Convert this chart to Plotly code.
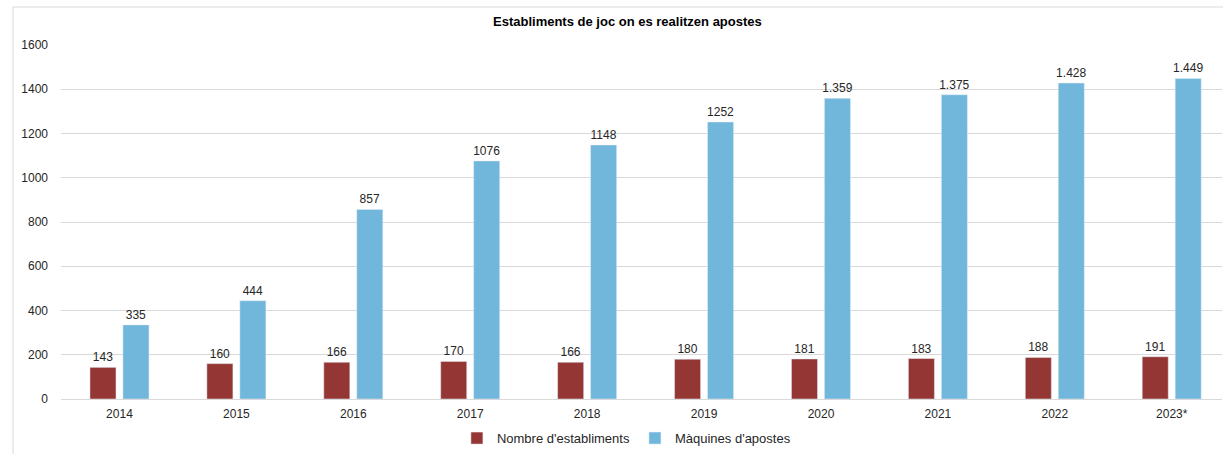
import plotly.graph_objects as go

anys = ["2014", "2015", "2016", "2017", "2018", "2019", "2020", "2021", "2022", "2023*"]
establiments = [143, 160, 166, 170, 166, 180, 181, 183, 188, 191]
maquines = [335, 444, 857, 1076, 1148, 1252, 1359, 1375, 1428, 1449]
etiquetes_maquines = ["335", "444", "857", "1076", "1148", "1252", "1.359", "1.375", "1.428", "1.449"]

FONT = "Liberation Sans, Arial, sans-serif"

fig = go.Figure()
fig.add_trace(go.Bar(
    x=anys, y=establiments, name="Nombre d'establiments",
    marker=dict(color="#943634"),
    text=[str(v) for v in establiments], textposition="outside",
    constraintext="none",
    textfont=dict(size=12, color="#262626"), cliponaxis=False,
))
fig.add_trace(go.Bar(
    x=anys, y=maquines, name="Màquines d'apostes",
    marker=dict(color="#71B6DB"),
    text=etiquetes_maquines, textposition="outside",
    constraintext="none",
    textfont=dict(size=12, color="#262626"), cliponaxis=False,
))

fig.update_layout(
    width=1223, height=454,
    margin=dict(l=61, r=1, t=45, b=55),
    paper_bgcolor="white", plot_bgcolor="white",
    font=dict(family=FONT, size=12, color="#262626"),
    title=dict(text="<b>Establiments de joc on es realitzen apostes</b>",
               x=0.513, xanchor="center", y=0.952, yanchor="middle",
               font=dict(size=13, color="#000000")),
    barmode="group", bargap=0.436, bargroupgap=0.21,
    showlegend=True,
    legend=dict(orientation="h", x=0.487, xanchor="center",
                yref="container", y=0.035, yanchor="middle",
                font=dict(size=13, color="#262626"), itemwidth=30,
                traceorder="normal"),
    # el gràfic original queda tallat per la dreta
    xaxis=dict(range=[-0.5, 9.43], showgrid=False, showline=False, ticks="",
               tickfont=dict(size=12), automargin=False, ticklabelstandoff=6),
    yaxis=dict(range=[0, 1600], dtick=200, showgrid=True, gridcolor="#d9d9d9",
               gridwidth=1, zeroline=True, zerolinecolor="#d9d9d9", zerolinewidth=1,
               ticks="", ticklabelstandoff=12, tickfont=dict(size=12),
               automargin=False),
    shapes=[dict(type="rect", xref="paper", yref="paper",
                 x0=-0.0413, x1=1.05, y0=-0.4, y1=1.1073,
                 line=dict(color="#d9d9d9", width=1), fillcolor="rgba(0,0,0,0)",
                 layer="below")],
)

# la pàgina per defecte té 8px de marge al body
fig.write_html("out.html", config={"displayModeBar": False},
               post_script="document.body.style.margin='0';")
